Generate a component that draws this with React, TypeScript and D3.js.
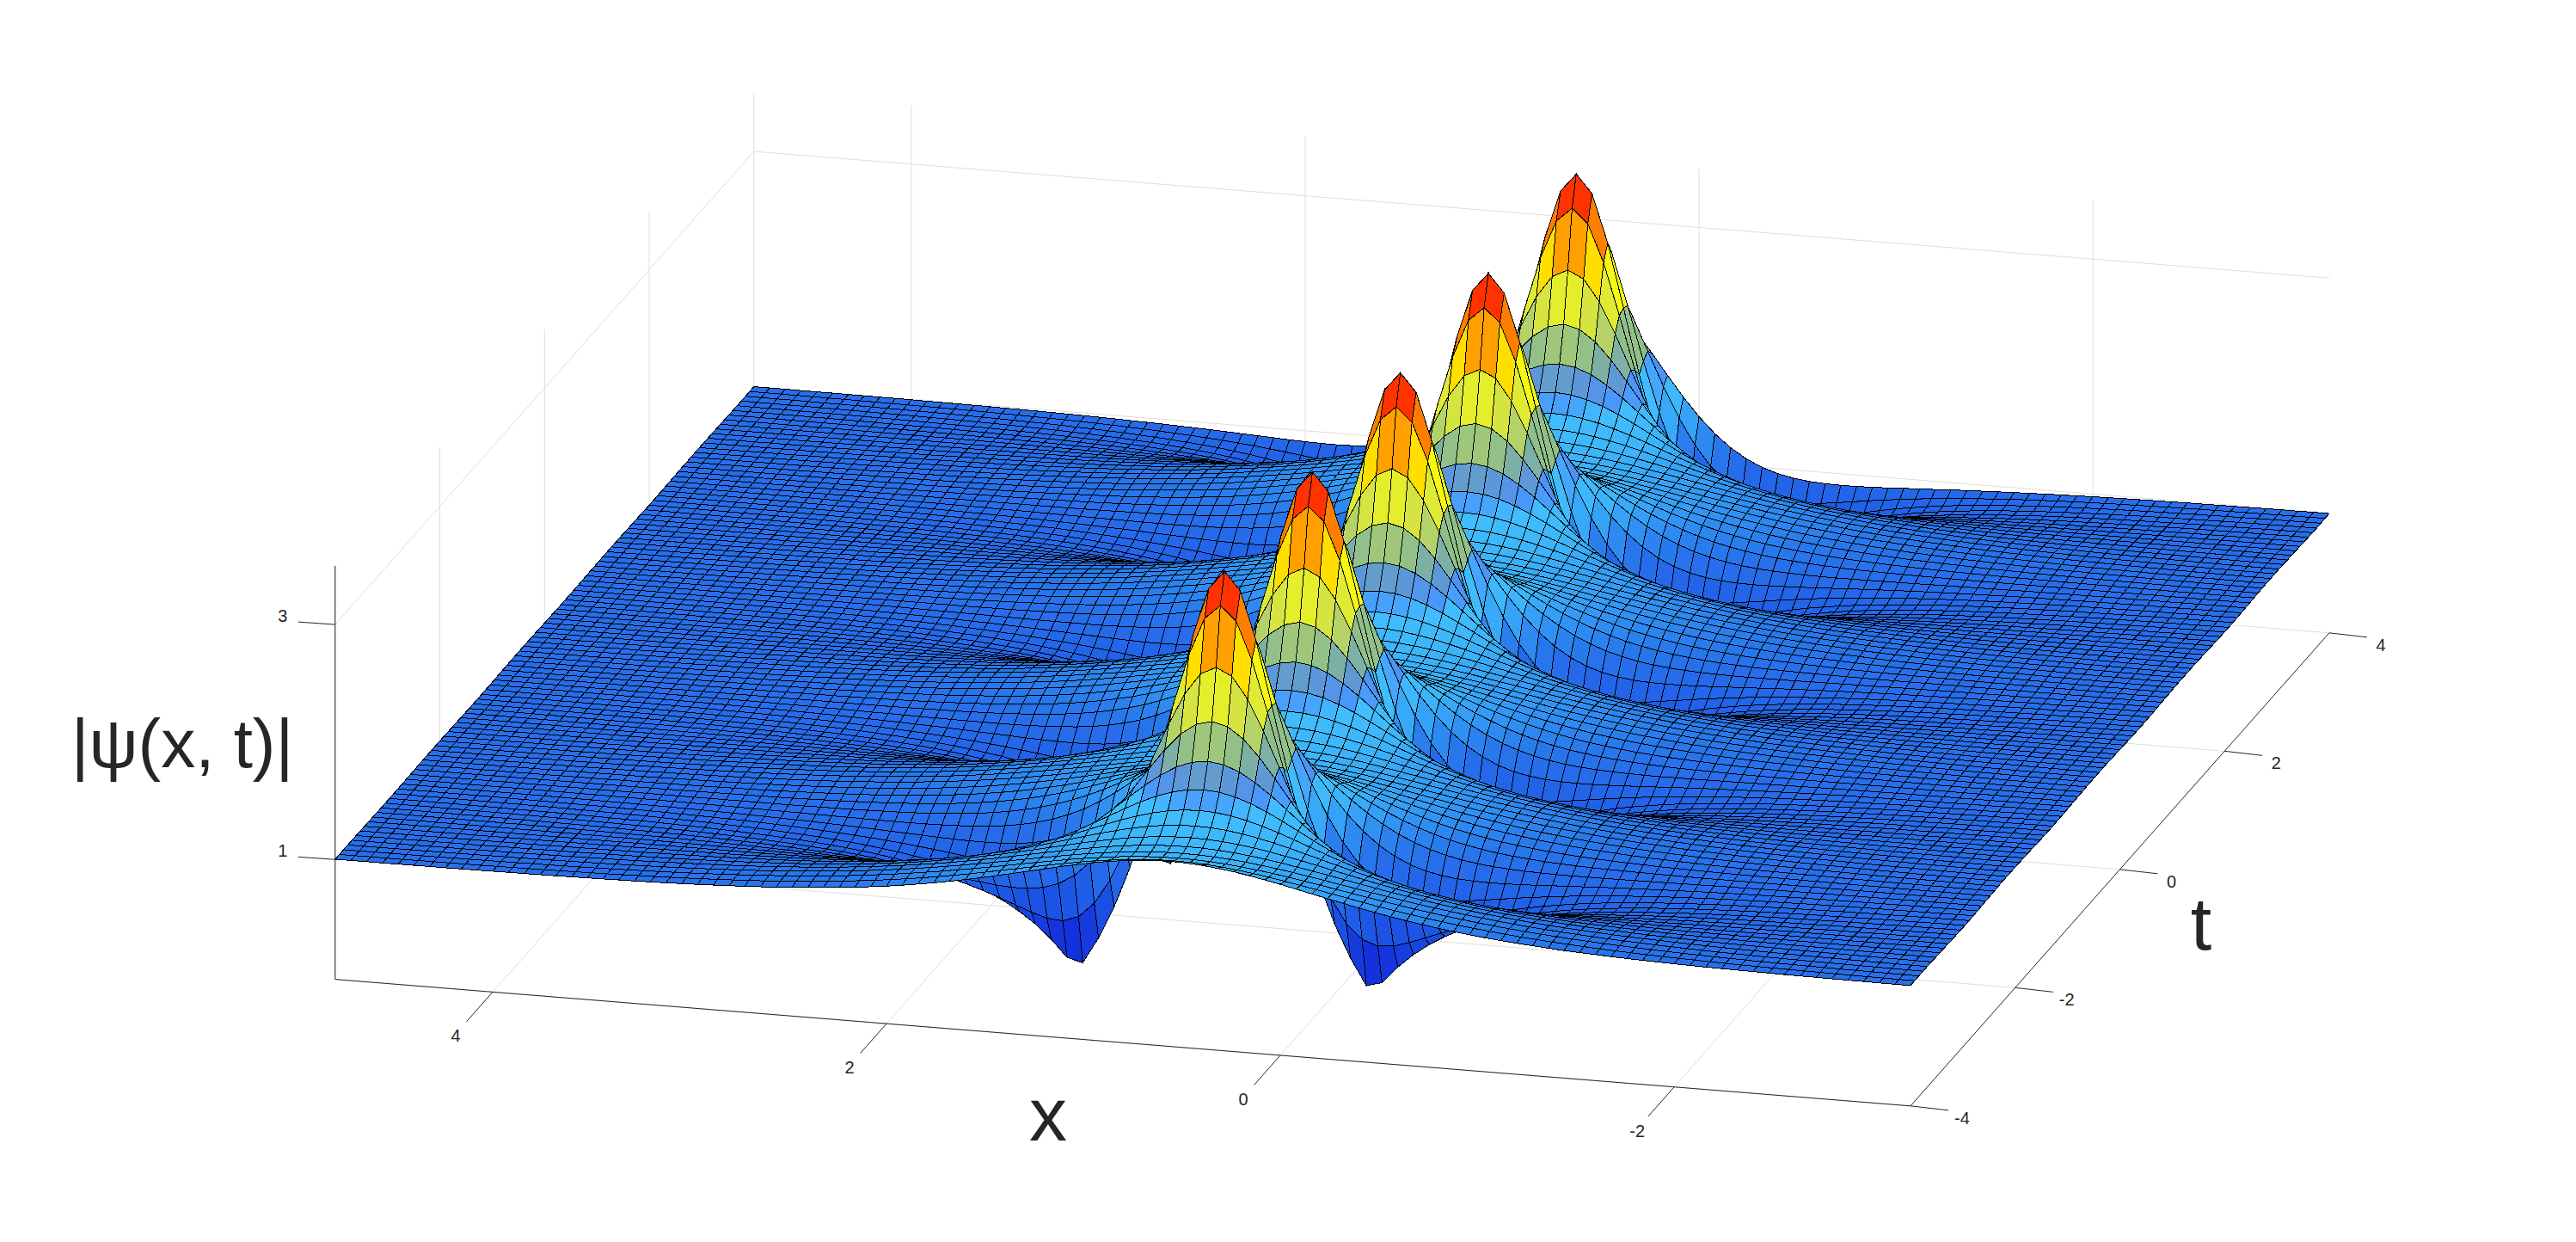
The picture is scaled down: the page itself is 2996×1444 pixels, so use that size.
import { useEffect, useRef } from 'react';
import { select, scaleLinear, line } from 'd3';

const xTicks = [4, 2, 0, -2];
const tTicks = [-4, -2, 0, 2, 4];
const zTicks = [1, 3];

// grid of the surface
const xCount = 101;
const tCount = 101;
const ridgeColumn = 53; // column of the ridge, counted from x = 4.8
const firstPeakRow = 13; // row of the first peak, counted from t = -4
const rowsPerPeriod = 21;

// estimated |psi| against distance from the ridge (one column = 0.08 in x),
// one list per t step away from a peak. Estimates fitted to the peak, dip and
// flat levels measured on the picture.
const phase0 = [3.5,3.344,2.934,2.393,1.839,1.339,.916,.571,.294,.072,.107,.251,.368,.464,.543,.609,.663,.709,.748,.782,.81,.834,.855,.873,.889,.902,.914,.925,.933,.941,.948,.954,.959,.964,.968,.971,.975,.978,.98,.982,.984,.986,.988,.989,.99,.991,.992,.993,.994,.995,.995,.996,.996,.997];
const phase1 = [3.249,3.129,2.807,2.37,1.91,1.484,1.122,.837,.63,.505,.459,.47,.511,.561,.612,.659,.702,.739,.772,.8,.825,.846,.865,.882,.896,.908,.919,.929,.937,.945,.951,.957,.961,.966,.97,.973,.976,.979,.981,.983,.985,.987,.988,.99,.991,.992,.993,.994,.994,.995,.996,.996,.996,.997];
const phase2 = [2.763,2.697,2.514,2.252,1.957,1.667,1.406,1.188,1.018,.896,.816,.772,.753,.752,.761,.777,.795,.813,.832,.849,.865,.88,.893,.905,.915,.925,.933,.941,.948,.954,.959,.964,.968,.971,.975,.977,.98,.982,.984,.986,.988,.989,.99,.991,.992,.993,.994,.995,.995,.996,.996,.997,.997,.997];
const phase3 = [2.343,2.309,2.214,2.07,1.899,1.719,1.545,1.389,1.255,1.147,1.063,1.001,.958,.93,.913,.905,.902,.903,.907,.912,.919,.925,.931,.938,.944,.949,.954,.959,.963,.967,.971,.974,.977,.98,.982,.984,.986,.987,.989,.99,.991,.992,.993,.994,.995,.995,.996,.996,.997,.997,.997,.998,.998,.998];
const phase4 = [2.044,2.026,1.975,1.895,1.797,1.687,1.575,1.468,1.369,1.283,1.209,1.149,1.1,1.063,1.034,1.013,.998,.988,.981,.977,.974,.973,.974,.974,.975,.977,.978,.98,.982,.983,.985,.987,.988,.99,.991,.992,.993,.994,.994,.995,.995,.996,.996,.997,.997,.998,.998,.998,.998,.998,.999,.999,.999,.999];
const phase5 = [1.842,1.832,1.802,1.756,1.697,1.629,1.556,1.483,1.412,1.346,1.287,1.235,1.19,1.152,1.121,1.095,1.074,1.057,1.044,1.033,1.025,1.018,1.013,1.01,1.007,1.005,1.003,1.002,1.001,1,1,1,1,1,1,1,1,1,1,1,1,1,1,1,1,1,1,1,1,1,1,1,1,1];
const phase6 = [1.706,1.7,1.682,1.653,1.615,1.571,1.522,1.471,1.42,1.371,1.325,1.282,1.243,1.208,1.178,1.151,1.128,1.109,1.092,1.078,1.066,1.056,1.048,1.041,1.035,1.03,1.025,1.022,1.019,1.016,1.014,1.012,1.011,1.01,1.009,1.008,1.007,1.006,1.005,1.005,1.004,1.004,1.003,1.003,1.003,1.002,1.002,1.002,1.002,1.001,1.001,1.001,1.001,1.001];
const phase7 = [1.614,1.611,1.599,1.579,1.554,1.523,1.489,1.452,1.414,1.377,1.34,1.304,1.271,1.241,1.213,1.188,1.165,1.146,1.127,1.112,1.098,1.086,1.075,1.066,1.057,1.05,1.045,1.039,1.035,1.03,1.026,1.023,1.02,1.018,1.016,1.014,1.013,1.011,1.01,1.009,1.008,1.007,1.006,1.005,1.005,1.004,1.004,1.003,1.003,1.003,1.002,1.002,1.002,1.002];
const phase8 = [1.555,1.552,1.543,1.529,1.511,1.488,1.462,1.435,1.405,1.375,1.345,1.316,1.287,1.26,1.235,1.211,1.19,1.169,1.151,1.135,1.12,1.107,1.095,1.085,1.075,1.066,1.059,1.053,1.046,1.041,1.036,1.032,1.028,1.025,1.022,1.02,1.018,1.016,1.014,1.012,1.011,1.01,1.009,1.008,1.007,1.006,1.005,1.005,1.004,1.004,1.003,1.003,1.003,1.002];
const phase9 = [1.519,1.517,1.51,1.499,1.484,1.466,1.445,1.421,1.397,1.372,1.346,1.32,1.294,1.269,1.246,1.224,1.203,1.184,1.166,1.15,1.135,1.121,1.108,1.097,1.086,1.078,1.069,1.061,1.055,1.049,1.044,1.039,1.035,1.031,1.027,1.024,1.021,1.019,1.017,1.015,1.013,1.012,1.01,1.009,1.008,1.007,1.006,1.006,1.005,1.004,1.004,1.004,1.003,1.003];
const phase10 = [1.502,1.5,1.494,1.484,1.471,1.454,1.436,1.415,1.392,1.369,1.345,1.321,1.297,1.274,1.252,1.23,1.21,1.191,1.173,1.157,1.141,1.127,1.114,1.103,1.092,1.083,1.074,1.066,1.059,1.053,1.047,1.042,1.037,1.033,1.029,1.026,1.023,1.02,1.018,1.016,1.014,1.013,1.011,1.01,1.009,1.008,1.007,1.006,1.005,1.005,1.004,1.004,1.003,1.003];
const phases = [phase0, phase1, phase2, phase3, phase4, phase5, phase6, phase7, phase8, phase9, phase10];

// colours, by height
const colorLevels = [0.1, 0.3, 0.7, 1, 1.1, 1.3, 1.5, 1.7, 1.8, 1.9, 2, 2.15, 2.3, 2.5, 2.7, 2.9, 3.1, 3.3];
const colorValues = ['#0a1ed7', '#1432dc', '#1e5ae6', '#286eeb', '#2878eb', '#3296f5', '#3cb4fa', '#41beff', '#4b91fa', '#5a96dc', '#73aab4', '#96c382', '#bed75f', '#e1eb32', '#ffff00', '#ffb400', '#ff6e00', '#ff3200'];

const xScale = scaleLinear().domain([4.8, -3.2]).range([0, 1]);
const tScale = scaleLinear().domain([-4, 4]).range([0, 1]);
const zScale = scaleLinear().domain([1, 3]).range([999.3, 726.1]);
const colorScale = scaleLinear<string>().domain(colorLevels).range(colorValues).clamp(true);

const zBottom = -0.02;
const zTop = 3.5;
const xMax = 4.8;
const xMin = -3.2;

// orthographic view, axes measured on the picture
const project = (x: number, t: number, z: number): [number, number] => {
  const u = xScale(x);
  const v = tScale(t);
  return [389.8 + 1832.2 * u + 487 * v, zScale(z) + 147.2 * u - 550 * v];
};

const height = (row: number, col: number) => {
  const p = ((row - firstPeakRow) % rowsPerPeriod + rowsPerPeriod) % rowsPerPeriod;
  const phase = phases[Math.min(p, rowsPerPeriod - p)];
  return phase[Math.abs(col - ridgeColumn)];
};

const App = () => {
  const svgRef = useRef<SVGSVGElement>(null);

  useEffect(() => {
    const svg = select(svgRef.current);
    svg.selectAll('*').remove();
    const path = line();

    const gridLines: [number, number, number][][] = [];
    xTicks.forEach((x) => {
      gridLines.push([[x, -4, zBottom], [x, 4, zBottom]]);
      gridLines.push([[x, 4, zBottom], [x, 4, zTop]]);
    });
    tTicks.forEach((t) => {
      gridLines.push([[xMax, t, zBottom], [xMin, t, zBottom]]);
      gridLines.push([[xMax, t, zBottom], [xMax, t, zTop]]);
    });
    zTicks.forEach((z) => {
      gridLines.push([[xMax, -4, z], [xMax, 4, z]]);
      gridLines.push([[xMax, 4, z], [xMin, 4, z]]);
    });
    svg.append('g').selectAll('path').data(gridLines).join('path')
      .attr('d', (d) => path(d.map((p) => project(p[0], p[1], p[2]))))
      .attr('fill', 'none')
      .attr('stroke', '#dedede')
      .attr('stroke-width', 1);

    const axisLines: [number, number, number][][] = [
      [[xMax, -4, zBottom], [xMin, -4, zBottom]],
      [[xMin, -4, zBottom], [xMin, 4, zBottom]],
      [[xMax, -4, zBottom], [xMax, -4, zTop]],
    ];
    xTicks.forEach((x) => axisLines.push([[x, -4, zBottom], [x, -4.5, zBottom]]));
    svg.append('g').selectAll('path').data(axisLines).join('path')
      .attr('d', (d) => path(d.map((p) => project(p[0], p[1], p[2]))))
      .attr('fill', 'none')
      .attr('stroke', '#262626')
      .attr('stroke-width', 1);

    const tickMarks = svg.append('g').attr('stroke', '#262626').attr('stroke-width', 1);
    tTicks.forEach((t) => {
      const [a, b] = project(xMin, t, zBottom);
      tickMarks.append('line').attr('x1', a).attr('y1', b).attr('x2', a + 44).attr('y2', b + 5);
    });
    zTicks.forEach((z) => {
      const [a, b] = project(xMax, -4, z);
      tickMarks.append('line').attr('x1', a).attr('y1', b).attr('x2', a - 43).attr('y2', b - 3);
    });

    // far cells first, so the near ones cover them
    const facets = [];
    for (let row = tCount - 2; row >= 0; row--) {
      for (let col = 0; col < xCount - 1; col++) {
        const corners = [[row, col], [row, col + 1], [row + 1, col + 1], [row + 1, col]];
        const zs = corners.map((c) => height(c[0], c[1]));
        facets.push({
          points: corners.map((c, i) => project(xMax - 0.08 * c[1], -4 + 0.08 * c[0], zs[i])),
          z: (zs[0] + zs[1] + zs[2] + zs[3]) / 4,
        });
      }
    }
    svg.append('g').selectAll('path').data(facets).join('path')
      .attr('d', (d) => path(d.points) + 'Z')
      .attr('fill', (d) => colorScale(d.z))
      .attr('stroke', '#000')
      .attr('stroke-width', 1)
      .attr('shape-rendering', 'crispEdges');

    const labels = svg.append('g').attr('fill', '#262626').attr('font-family', 'Liberation Sans').attr('text-anchor', 'middle');
    xTicks.forEach((x) => {
      const [a, b] = project(x, -4, zBottom);
      labels.append('text').attr('x', a - 43).attr('y', b + 58).attr('font-size', 20).text(x);
    });
    tTicks.forEach((t) => {
      const [a, b] = project(xMin, t, zBottom);
      labels.append('text').attr('x', a + 60).attr('y', b + 21).attr('font-size', 20).text(t);
    });
    zTicks.forEach((z) => {
      const [a, b] = project(xMax, -4, z);
      labels.append('text').attr('x', a - 61).attr('y', b - 3).attr('font-size', 20).text(z);
    });
    labels.append('text').attr('x', 1219).attr('y', 1326).attr('font-size', 88).text('x');
    labels.append('text').attr('x', 2560).attr('y', 1104).attr('font-size', 88).text('t');
    labels.append('text').attr('x', 212).attr('y', 892).attr('font-size', 80).text('|ψ(x, t)|');
  }, []);

  return (
    <svg
      ref={svgRef}
      width={2996}
      height={1444}
      style={{ position: 'absolute', left: 0, top: 0, background: '#fff' }}
    />
  );
};

export default App;
